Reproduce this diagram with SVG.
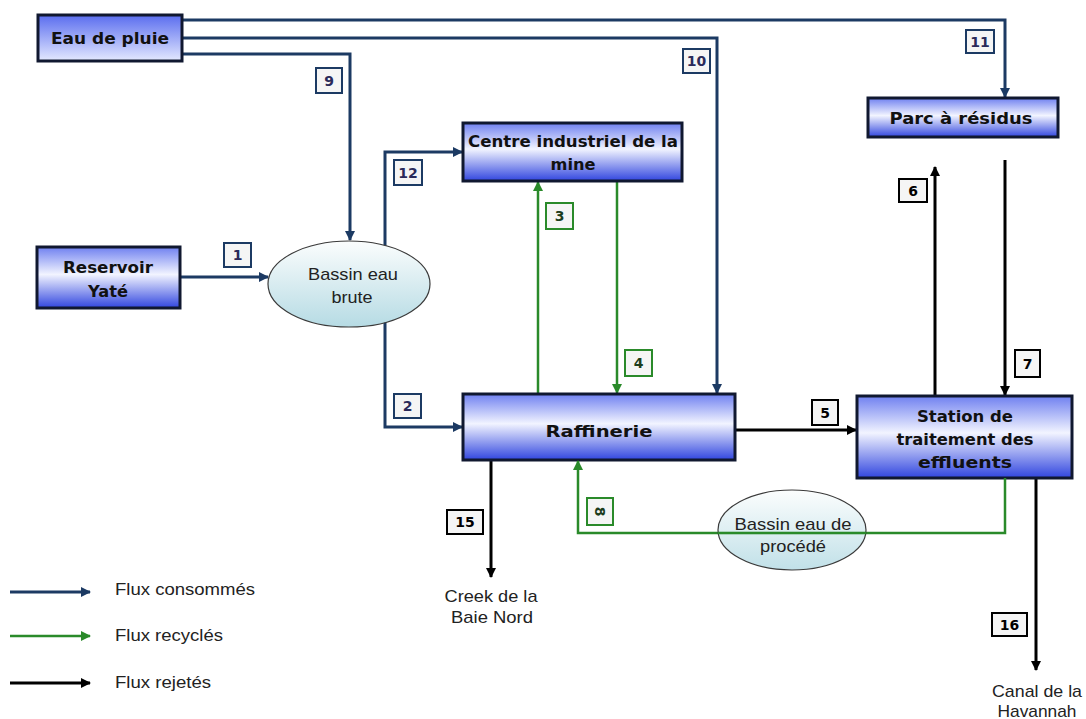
<svg xmlns="http://www.w3.org/2000/svg" width="1086" height="719" viewBox="0 0 1086 719">
<defs>
<linearGradient id="gBox" x1="0" y1="0" x2="0" y2="1">
<stop offset="0" stop-color="#6f80f0"/>
<stop offset="0.45" stop-color="#f2f4ff"/>
<stop offset="1" stop-color="#3045df"/>
</linearGradient>
<linearGradient id="gRain" x1="0" y1="0" x2="0" y2="1">
<stop offset="0" stop-color="#5a6def"/>
<stop offset="1" stop-color="#e4e9ff"/>
</linearGradient>
<linearGradient id="gEll" x1="0" y1="0" x2="0" y2="1">
<stop offset="0" stop-color="#fbfdfd"/>
<stop offset="1" stop-color="#b6dbe4"/>
</linearGradient>
<marker id="aB" viewBox="0 0 10 10" refX="9" refY="5" markerWidth="11" markerHeight="10" markerUnits="userSpaceOnUse" orient="auto"><path d="M0,0 L10,5 L0,10 z" fill="#1c3a63"/></marker>
<marker id="aG" viewBox="0 0 10 10" refX="9" refY="5" markerWidth="11" markerHeight="10" markerUnits="userSpaceOnUse" orient="auto"><path d="M0,0 L10,5 L0,10 z" fill="#2a8a2a"/></marker>
<marker id="aK" viewBox="0 0 10 10" refX="9" refY="5" markerWidth="11" markerHeight="10" markerUnits="userSpaceOnUse" orient="auto"><path d="M0,0 L10,5 L0,10 z" fill="#000"/></marker>
</defs>
<style>
.box{stroke:#101830;stroke-width:3;fill:url(#gBox)}
.bt{font-family:"DejaVu Sans",sans-serif;font-weight:bold;font-size:16px;fill:#111;text-anchor:middle}
.ell{fill:url(#gEll);stroke:#3a3a3a;stroke-width:1.2}
.et{font-family:"Liberation Sans",Arial,sans-serif;font-size:17px;fill:#222;text-anchor:middle}
.blue{fill:none;stroke:#1c3a63;stroke-width:3}
.green{fill:none;stroke:#2a8a2a;stroke-width:2.5}
.black{fill:none;stroke:#000;stroke-width:3}
.lb{fill:#f5f5f5;stroke-width:2}
.lbB{stroke:#1c3a63}
.lbG{stroke:#2a8a2a}
.lbK{stroke:#000}
.lt{font-family:"DejaVu Sans",sans-serif;font-weight:bold;font-size:14px;text-anchor:middle}
.ltB{fill:#2a2a5a}
.ltG{fill:#1d3d1d}
.ltK{fill:#000}
.leg{font-family:"Liberation Sans",Arial,sans-serif;font-size:16px;fill:#222}
</style>
<rect x="0" y="0" width="1086" height="719" fill="#ffffff"/>

<g id="connectors">
<path id="c11" class="blue" d="M182,20 H1005 V97" marker-end="url(#aB)"/>
<path id="c10" class="blue" d="M182,38 H717 V393" marker-end="url(#aB)"/>
<path id="c9" class="blue" d="M182,54 H350 V240" marker-end="url(#aB)"/>
<path id="c1" class="blue" d="M180,277 H268" marker-end="url(#aB)"/>
<path id="c12" class="blue" d="M385,246 V152 H462" marker-end="url(#aB)"/>
<path id="c2" class="blue" d="M385,322 V427 H462" marker-end="url(#aB)"/>
<path id="c3" class="green" d="M538,393 V182" marker-end="url(#aG)"/>
<path id="c4" class="green" d="M617,181 V393" marker-end="url(#aG)"/>
<path id="c5" class="black" d="M735,430 H856" marker-end="url(#aK)"/>
<path id="c6" class="black" d="M935,395 V167" marker-end="url(#aK)"/>
<path id="c7" class="black" d="M1005,160 V395" marker-end="url(#aK)"/>
<path id="c15" class="black" d="M491,460 V577" marker-end="url(#aK)"/>
<path id="c16" class="black" d="M1036,478 V670" marker-end="url(#aK)"/>
</g>

<g id="n-eau-pluie"><rect class="box" x="38" y="15" width="144" height="46" style="fill:url(#gRain)"/><text class="bt" x="110" y="44" textLength="118" lengthAdjust="spacingAndGlyphs">Eau de pluie</text></g>
<g id="n-reservoir"><rect class="box" x="37" y="247" width="143" height="61"/><text class="bt" x="108" y="273" textLength="90" lengthAdjust="spacingAndGlyphs">Reservoir</text><text class="bt" x="108" y="297" textLength="40" lengthAdjust="spacingAndGlyphs">Yaté</text></g>
<g id="n-bassin-brute"><ellipse class="ell" cx="349" cy="284" rx="81" ry="43"/><text class="et" x="353" y="280" textLength="90" lengthAdjust="spacingAndGlyphs">Bassin eau</text><text class="et" x="352" y="303" textLength="41" lengthAdjust="spacingAndGlyphs">brute</text></g>
<g id="n-centre"><rect class="box" x="463" y="123" width="219" height="58"/><text class="bt" x="573" y="147" textLength="210" lengthAdjust="spacingAndGlyphs">Centre industriel de la</text><text class="bt" x="573" y="170" textLength="45" lengthAdjust="spacingAndGlyphs">mine</text></g>
<g id="n-raffinerie"><rect class="box" x="463" y="394" width="272" height="66"/><text class="bt" x="599" y="437" textLength="107" lengthAdjust="spacingAndGlyphs">Raffinerie</text></g>
<g id="n-parc"><rect class="box" x="868" y="98" width="190" height="39"/><text class="bt" x="961" y="124" textLength="143" lengthAdjust="spacingAndGlyphs">Parc  à résidus</text></g>
<g id="n-station"><rect class="box" x="857" y="396" width="215" height="82"/><text class="bt" x="965" y="422" textLength="96" lengthAdjust="spacingAndGlyphs">Station de</text><text class="bt" x="965" y="445" textLength="137" lengthAdjust="spacingAndGlyphs">traitement des</text><text class="bt" x="965" y="468" textLength="94" lengthAdjust="spacingAndGlyphs">effluents</text></g>

<g id="connector-8"><path id="c8" class="green" d="M1005,478 V533 H578 V461" marker-end="url(#aG)"/></g>
<g id="n-bassin-procede"><ellipse class="ell" cx="792" cy="530" rx="74" ry="40" style="fill-opacity:0.85"/><line x1="718" y1="533" x2="866" y2="533" stroke="#2a8a2a" stroke-width="2.5"/><text class="et" x="793" y="530" textLength="117" lengthAdjust="spacingAndGlyphs">Bassin eau de</text><text class="et" x="793" y="552" textLength="66" lengthAdjust="spacingAndGlyphs">procédé</text></g>

<g id="n-creek"><text class="et" x="491" y="602" textLength="93" lengthAdjust="spacingAndGlyphs">Creek de la</text><text class="et" x="492" y="623" textLength="82" lengthAdjust="spacingAndGlyphs">Baie Nord</text></g>
<g id="n-canal"><text class="et" x="1037" y="697" textLength="90" lengthAdjust="spacingAndGlyphs">Canal de la</text><text class="et" x="1037" y="717" textLength="79" lengthAdjust="spacingAndGlyphs">Havannah</text></g>

<g id="labels">
<g id="l1"><rect class="lb lbB" x="224" y="243" width="27" height="24"/><text class="lt ltB" x="237.5" y="260">1</text></g>
<g id="l2"><rect class="lb lbB" x="394" y="394" width="27" height="24"/><text class="lt ltB" x="407.5" y="411">2</text></g>
<g id="l9"><rect class="lb lbB" x="316" y="68" width="26" height="25"/><text class="lt ltB" x="329" y="86">9</text></g>
<g id="l10"><rect class="lb lbB" x="683" y="49" width="27" height="24"/><text class="lt ltB" x="696.5" y="66">10</text></g>
<g id="l11"><rect class="lb lbB" x="966" y="30" width="28" height="23"/><text class="lt ltB" x="980" y="47">11</text></g>
<g id="l12"><rect class="lb lbB" x="394" y="160" width="28" height="25"/><text class="lt ltB" x="408" y="178">12</text></g>
<g id="l3"><rect class="lb lbG" x="546" y="203" width="27" height="26"/><text class="lt ltG" x="559.5" y="221">3</text></g>
<g id="l4"><rect class="lb lbG" x="625" y="350" width="27" height="26"/><text class="lt ltG" x="638.5" y="368">4</text></g>
<g id="l8"><rect class="lb lbG" x="587" y="498" width="26" height="27"/><text class="lt ltG" x="0" y="0" transform="translate(595,511.5) rotate(90)">8</text></g>
<g id="l5"><rect class="lb lbK" x="812" y="400" width="26" height="25"/><text class="lt ltK" x="825" y="418">5</text></g>
<g id="l6"><rect class="lb lbK" x="899" y="179" width="28" height="23"/><text class="lt ltK" x="913" y="196">6</text></g>
<g id="l7"><rect class="lb lbK" x="1015" y="350" width="25" height="27"/><text class="lt ltK" x="1027.5" y="369">7</text></g>
<g id="l15"><rect class="lb lbK" x="447" y="510" width="36" height="24"/><text class="lt ltK" x="465" y="527">15</text></g>
<g id="l16"><rect class="lb lbK" x="992" y="613" width="35" height="23"/><text class="lt ltK" x="1009.5" y="630">16</text></g>
</g>

<g id="legend">
<line class="blue" x1="10" y1="592" x2="90" y2="592" marker-end="url(#aB)"/>
<text class="leg" x="115" y="595" textLength="140" lengthAdjust="spacingAndGlyphs">Flux consommés</text>
<line class="green" x1="10" y1="636" x2="90" y2="636" marker-end="url(#aG)"/>
<text class="leg" x="115" y="641" textLength="108" lengthAdjust="spacingAndGlyphs">Flux recyclés</text>
<line class="black" x1="10" y1="683" x2="90" y2="683" marker-end="url(#aK)"/>
<text class="leg" x="115" y="688" textLength="96" lengthAdjust="spacingAndGlyphs">Flux rejetés</text>
</g>
</svg>
